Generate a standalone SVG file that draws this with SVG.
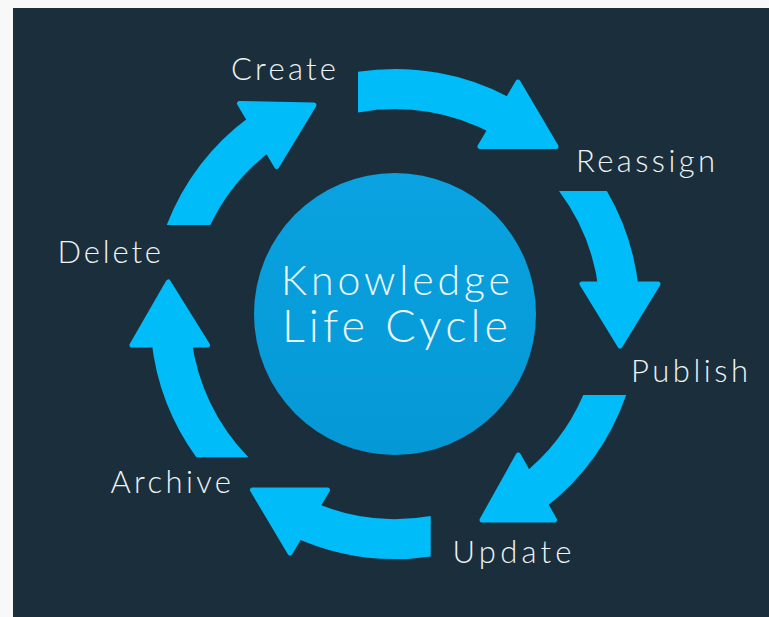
<svg xmlns="http://www.w3.org/2000/svg" width="769" height="617" viewBox="0 0 769 617">
  <defs>
    <linearGradient id="hubFill" x1="0" y1="0" x2="0" y2="1">
      <stop offset="0" stop-color="#0aa2e0"/>
      <stop offset="1" stop-color="#0598d6"/>
    </linearGradient>
    <style>
      .label { font-family: "Lato", "Open Sans", "Liberation Sans", sans-serif; font-weight: 300; font-size: 31px; fill: #eef3f6; }
      .hubtext { font-family: "Lato", "Open Sans", "Liberation Sans", sans-serif; font-weight: 300; fill: #eef6fb; }
      .shaft { fill: #00bcf8; }
      .head { fill: #00bcf8; stroke: #00bcf8; stroke-width: 5; stroke-linejoin: round; }
    </style>
  </defs>

  <rect x="0" y="0" width="769" height="617" fill="#f8f8f8"/>
  <rect x="13" y="8" width="756" height="609" fill="#1a2f3b"/>

  <g id="hub">
    <circle cx="395" cy="314" r="141" fill="url(#hubFill)"/>
    <text class="hubtext" x="281" y="295" font-size="41" textLength="229" lengthAdjust="spacing">Knowledge</text>
    <text class="hubtext" x="282" y="341.7" font-size="45" font-weight="100" textLength="226" lengthAdjust="spacing">Life Cycle</text>
  </g>

  <g id="connectors">
    <g id="arrow-create-reassign">
      <path class="shaft" d="M358 71.8 A245 245 0 0 1 513.8 99.7 L494.4 134.7 A205 205 0 0 0 358 112.4 Z"/>
      <polygon class="head" points="518,82 480,146.5 556,146.5"/>
    </g>
    <g id="arrow-reassign-publish">
      <path class="shaft" d="M559 191 L606.9 191 A245 245 0 0 1 638.8 290 L598.6 290 A205 205 0 0 0 559 191 Z"/>
      <polygon class="head" points="582,284 658,284 620,346"/>
    </g>
    <g id="arrow-publish-update">
      <path class="shaft" d="M626.2 395 A245 245 0 0 1 544.2 508.4 L519.8 476.6 A205 205 0 0 0 583.3 395 Z"/>
      <polygon class="head" points="518.3,455 554.5,520 482,520"/>
    </g>
    <g id="arrow-update-archive">
      <path class="shaft" d="M430.7 556.4 A245 245 0 0 1 291.5 536 L308.4 499.8 A205 205 0 0 0 430.7 515.9 Z"/>
      <polygon class="head" points="327.5,490 290,553 252.5,490"/>
    </g>
    <g id="arrow-archive-delete">
      <path class="shaft" d="M196.3 457.3 A245 245 0 0 1 151.4 340 L191.7 340 A205 205 0 0 0 248.4 457.3 Z"/>
      <polygon class="head" points="132,345 207.5,345 168.3,282"/>
    </g>
    <g id="arrow-delete-create">
      <path class="shaft" d="M166.7 225 A245 245 0 0 1 249.3 117 L273.1 149.2 A205 205 0 0 0 210.3 225 Z"/>
      <polygon class="head" points="239.5,103.5 314,105 276.7,166.5"/>
    </g>
  </g>

  <g id="node-create"><text class="label" x="231" y="80" textLength="105" lengthAdjust="spacing">Create</text></g>
  <g id="node-reassign"><text class="label" x="576" y="171.7" textLength="139" lengthAdjust="spacing">Reassign</text></g>
  <g id="node-publish"><text class="label" x="631" y="381.7" textLength="117" lengthAdjust="spacing">Publish</text></g>
  <g id="node-update"><text class="label" x="452.5" y="563.3" textLength="119" lengthAdjust="spacing">Update</text></g>
  <g id="node-archive"><text class="label" x="110.5" y="493.3" textLength="120.5" lengthAdjust="spacing">Archive</text></g>
  <g id="node-delete"><text class="label" x="57.5" y="263.3" textLength="103.5" lengthAdjust="spacing">Delete</text></g>
</svg>
